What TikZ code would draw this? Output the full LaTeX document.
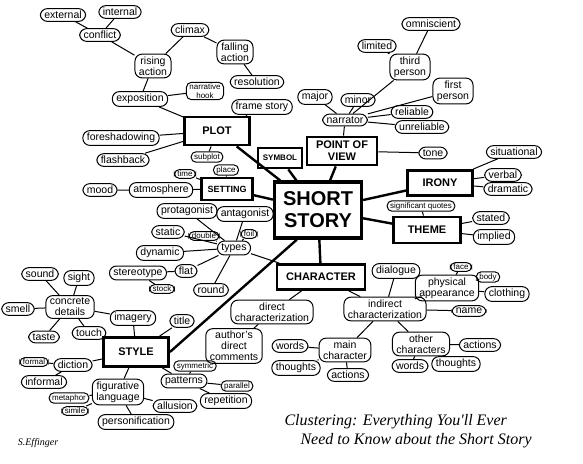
\documentclass[tikz,border=0pt]{standalone}
\usepackage{fontspec}
\setmainfont{Liberation Sans}
\newfontfamily\handfont{Liberation Serif}
\begin{document}
\begin{tikzpicture}[x=1pt, y=-1pt, font=\fontsize{10.5}{11}\selectfont,
    blob/.style={draw, rounded corners=7pt, inner xsep=4pt, inner ysep=2.5pt, align=center, line width=1pt},
    smallblob/.style={blob, rounded corners=5pt, inner xsep=3pt, inner ysep=1.5pt, font=\fontsize{8}{8.5}\selectfont},
    topic/.style={draw, line width=2.8pt, align=center, inner sep=3pt, font=\bfseries\fontsize{11}{12}\selectfont},
    link/.style={line width=1pt},
    spoke/.style={line width=2.4pt}]
  \useasboundingbox (0,0) rectangle (583,463);

  % plot
  \node[blob] (external) at (63,15) {external};
  \node[blob] (internal) at (120,12) {internal};
  \node[blob] (conflict) at (100,35) {conflict};
  \node[blob] (climax) at (190,30) {climax};
  \node[blob] (rising) at (153,66) {rising\\action};
  \node[blob] (falling) at (235,52) {falling\\action};
  \node[blob] (resolution) at (257,82) {resolution};
  \node[smallblob] (hook) at (205,91) {narrative\\hook};
  \node[blob] (exposition) at (140,99) {exposition};
  \node[blob] (frame) at (262,107) {frame story};
  \node[topic, minimum width=65pt, minimum height=28pt] (plot) at (217,131) {PLOT};
  \node[blob] (foreshadowing) at (121,138) {foreshadowing};
  \node[blob] (flashback) at (123,160) {flashback};
  \node[smallblob] (subplot) at (207,157) {subplot};

  % point of view
  \node[blob] (major) at (315,97) {major};
  \node[blob] (minor) at (358,100) {minor};
  \node[blob] (narrator) at (345,120) {narrator};
  \node[blob] (omniscient) at (431,24) {omniscient};
  \node[blob] (limited) at (377,46) {limited};
  \node[blob] (third) at (410,67) {third\\person};
  \node[blob] (first) at (453,91) {first\\person};
  \node[blob] (reliable) at (412,112) {reliable};
  \node[blob] (unreliable) at (422,127) {unreliable};
  \node[topic, minimum width=70pt, minimum height=28pt] (pov) at (342,151) {POINT OF\\VIEW};
  \node[blob] (tone) at (433,153) {tone};

  % symbol, setting
  \node[topic, minimum width=44pt, minimum height=20pt, font=\bfseries\fontsize{8}{9}\selectfont] (symbol) at (280,158) {SYMBOL};
  \node[topic, minimum width=51pt, minimum height=22pt, font=\bfseries\fontsize{9}{10}\selectfont] (setting) at (227,189) {SETTING};
  \node[smallblob] (time) at (185,174) {time};
  \node[smallblob] (place) at (226,170) {place};
  \node[blob] (atmosphere) at (161,190) {atmosphere};
  \node[blob] (mood) at (100,190) {mood};

  % centre
  \node[topic, line width=3.2pt, minimum width=87pt, minimum height=56pt, font=\bfseries\fontsize{20}{22}\selectfont] (story) at (318,210) {SHORT\\STORY};

  % irony, theme
  \node[topic, minimum width=65pt, minimum height=25pt] (irony) at (440,183) {IRONY};
  \node[blob] (situational) at (514,152) {situational};
  \node[blob] (verbal) at (503,175) {verbal};
  \node[blob] (dramatic) at (508,189) {dramatic};
  \node[topic, minimum width=67pt, minimum height=26pt] (theme) at (427,230) {THEME};
  \node[smallblob] (quotes) at (421,206) {significant quotes};
  \node[blob] (stated) at (491,218) {stated};
  \node[blob] (implied) at (494,237) {implied};

  % character
  \node[topic, minimum width=88pt, minimum height=25pt] (character) at (321,277) {CHARACTER};
  \node[blob] (types) at (234,248) {types};
  \node[blob] (protagonist) at (187,211) {protagonist};
  \node[blob] (antagonist) at (245,214) {antagonist};
  \node[blob] (static) at (168,232) {static};
  \node[smallblob] (double) at (204,236) {double};
  \node[smallblob] (foil) at (249,234) {foil};
  \node[blob] (dynamic) at (160,253) {dynamic};
  \node[blob] (stereotype) at (138,273) {stereotype};
  \node[blob] (flat) at (186,271) {flat};
  \node[smallblob] (stock) at (162,289) {stock};
  \node[blob] (round) at (211,290) {round};
  \node[blob] (direct) at (272,312) {direct\\characterization};
  \node[blob] (comments) at (234,346) {author's\\direct\\comments};
  \node[blob] (mainwords) at (290,346) {words};
  \node[blob] (main) at (345,350) {main\\character};
  \node[blob] (mainthoughts) at (296,368) {thoughts};
  \node[blob] (mainactions) at (348,375) {actions};
  \node[blob] (dialogue) at (396,271) {dialogue};
  \node[blob] (indirect) at (385,309) {indirect\\characterization};
  \node[smallblob] (face) at (461,267) {face};
  \node[smallblob] (body) at (488,277) {body};
  \node[blob] (physical) at (447,288) {physical\\appearance};
  \node[blob] (clothing) at (507,294) {clothing};
  \node[blob] (name) at (469,311) {name};
  \node[blob] (others) at (421,344) {other\\characters};
  \node[blob] (otheractions) at (480,345) {actions};
  \node[blob] (otherwords) at (410,366) {words};
  \node[blob] (otherthoughts) at (456,364) {thoughts};

  % style
  \node[blob] (sound) at (40,274) {sound};
  \node[blob] (sight) at (79,278) {sight};
  \node[blob] (concrete) at (70,307) {concrete\\details};
  \node[blob] (smell) at (18,309) {smell};
  \node[blob] (imagery) at (133,318) {imagery};
  \node[blob] (title) at (182,321) {title};
  \node[blob] (taste) at (44,337) {taste};
  \node[blob] (touch) at (89,333) {touch};
  \node[topic, minimum width=65pt, minimum height=29pt] (style) at (136,352) {STYLE};
  \node[smallblob] (formal) at (34,362) {formal};
  \node[blob] (diction) at (73,365) {diction};
  \node[blob] (informal) at (44,382) {informal};
  \node[blob] (figurative) at (118,392) {figurative\\language};
  \node[smallblob] (metaphor) at (69,398) {metaphor};
  \node[smallblob] (simile) at (75,411) {simile};
  \node[blob] (personification) at (136,422) {personification};
  \node[blob] (allusion) at (175,406) {allusion};
  \node[blob] (patterns) at (184,381) {patterns};
  \node[smallblob] (symmetric) at (195,366) {symmetric};
  \node[smallblob] (parallel) at (237,386) {parallel};
  \node[blob] (repetition) at (226,401) {repetition};

  \node[font=\handfont\itshape\fontsize{16}{19}\selectfont, align=left, anchor=west] (caption) at (281,431) {Clustering: Everything You'll Ever\\\hspace*{1em}Need to Know about the Short Story};
  \node[font=\handfont\itshape\fontsize{10}{12}\selectfont] (signature) at (38,443) {S.Effinger};

  % spokes
  \draw[spoke] (story) -- (plot) (story) -- (setting) (story) -- (symbol) (story) -- (pov)
    (story) -- (irony) (story) -- (theme) (story) -- (character);
  \draw[spoke] ([xshift=24pt]story.south west) -- (style.east);

  % links
  \draw[link] (conflict) -- (external) (conflict) -- (internal) (conflict) -- (rising)
    (rising) -- (climax) (climax) -- (falling) (falling) -- (resolution)
    (rising) -- (exposition) (exposition) -- (hook) (exposition) -- (plot)
    (plot) -- (frame) (plot) -- (foreshadowing) (plot) -- (flashback) (plot) -- (subplot);
  \draw[link] (pov) -- (narrator) (narrator) -- (major) (narrator) -- (minor)
    (narrator) -- (third) (narrator) -- (first) (third) -- (limited) (third) -- (omniscient)
    (narrator) -- (reliable) (narrator) -- (unreliable) (pov) -- (tone);
  \draw[link] (setting) -- (time) (setting) -- (place) (setting) -- (atmosphere) (atmosphere) -- (mood);
  \draw[link] (irony) -- (situational) (irony) -- (verbal) (irony) -- (dramatic)
    (theme) -- (quotes) (theme) -- (stated) (theme) -- (implied);
  \draw[link] (character) -- (types) (types) -- (protagonist) (types) -- (antagonist)
    (types) -- (static) (types) -- (double) (types) -- (foil) (types) -- (dynamic)
    (types) -- (flat) (types) -- (round) (flat) -- (stereotype) (stereotype) -- (stock);
  \draw[link] (character) -- (direct) (direct) -- (comments) (character) -- (indirect)
    (indirect) -- (dialogue) (indirect) -- (physical) (indirect) -- (name)
    (indirect) -- (others) (indirect) -- (main)
    (physical) -- (face) (physical) -- (body) (physical) -- (clothing)
    (others) -- (otheractions) (others) -- (otherwords) (others) -- (otherthoughts)
    (main) -- (mainwords) (main) -- (mainthoughts) (main) -- (mainactions);
  \draw[link] (style) -- (imagery) (style) -- (title) (style) -- (diction)
    (style) -- (figurative) (style) -- (patterns) (imagery) -- (concrete)
    (concrete) -- (sound) (concrete) -- (sight) (concrete) -- (smell)
    (concrete) -- (taste) (concrete) -- (touch)
    (diction) -- (formal) (diction) -- (informal)
    (figurative) -- (metaphor) (figurative) -- (simile)
    (figurative) -- (personification) (figurative) -- (allusion)
    (patterns) -- (symmetric) (patterns) -- (parallel) (patterns) -- (repetition);
\end{tikzpicture}
\end{document}
